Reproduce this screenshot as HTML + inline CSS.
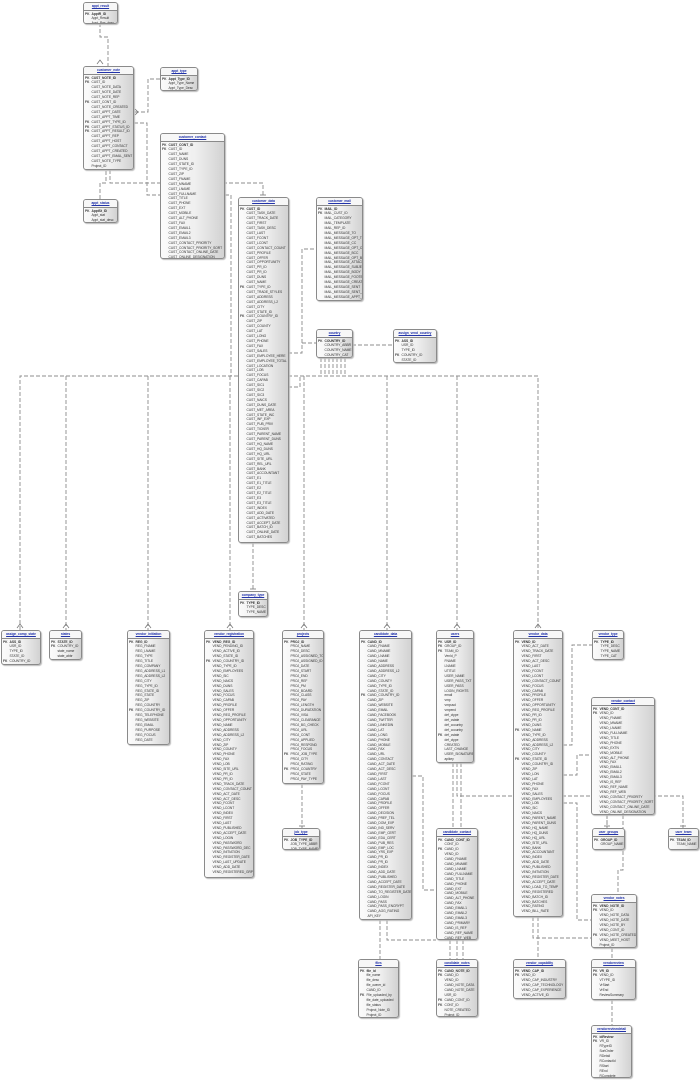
<!DOCTYPE html>
<html><head><meta charset="utf-8"><style>
html,body{margin:0;padding:0;background:#fff;}
body{width:700px;height:1081px;position:relative;overflow:hidden;}
.t{position:absolute;border:1px solid #8a8a8a;border-radius:3px;background:linear-gradient(90deg,#fbfbfb 0%,#efefef 55%,#d2d2d2 100%);box-shadow:1px 1px 1px #bbb;font-family:"Liberation Sans",sans-serif;font-size:3.3px;letter-spacing:-0.05px;line-height:4.9px;color:#333;overflow:hidden;box-sizing:border-box;}
.h{color:#2233aa;text-decoration:underline;font-weight:bold;text-align:center;line-height:6.5px;border-bottom:1px solid #8a8a8a;background:#f7f7f7;white-space:nowrap;}
.b{position:relative;padding:1px 0 0 1px;white-space:pre;}
.k{position:absolute;left:1px;top:1px;white-space:pre;font-weight:bold;color:#444;}
.f{padding-left:6.5px;}
.f b{font-weight:bold;}
svg{position:absolute;left:0;top:0;}
</style></head><body>
<svg width="700" height="1081" viewBox="0 0 700 1081">
<g fill="none" stroke="#8c8c8c" stroke-width="0.9" stroke-dasharray="4,2">
<path d="M100 23 V37 H108 V66"/>
<path d="M160 79 H148 V112 H134"/>
<path d="M134 123 H147 V195 H160"/>
<path d="M100 199 V183 H106 V170"/>
<path d="M110 170 V183 H263 V197"/>
<path d="M225 195 H231 V376"/>
<path d="M288 353 H302 V249 H316"/>
<path d="M302 343 H316"/>
<path d="M352 345 H393"/>
<path d="M288 387 H300 V376"/>
<path d="M20 630 V376 H538 V630"/>
<path d="M66 376 V630"/><path d="M148 376 V630"/><path d="M230 376 V630"/><path d="M304 376 V630"/><path d="M387 376 V630"/><path d="M457 376 V630"/>
<path d="M321 358 V376"/><path d="M325 358 V376"/><path d="M329 358 V376"/><path d="M333 358 V376"/><path d="M337 358 V376"/><path d="M341 358 V376"/><path d="M345 358 V376"/>
<path d="M253 543 V591"/>
<path d="M302 784 V828"/>
<path d="M457 763 V796 H683 V828"/>
<path d="M607 796 V828"/>
<path d="M453 763 V828"/><path d="M461 763 V828"/>
<path d="M412 776 H423 V890 H436"/>
<path d="M380 920 V959"/><path d="M387 920 V940 H436"/>
<path d="M450 940 V959"/><path d="M457 940 V959"/><path d="M463 940 V959"/>
<path d="M563 745 H572 V645 H592"/>
<path d="M563 775 H577 V755 H591"/>
<path d="M563 803 H577 V920 H591"/>
<path d="M623 815 V870 H618 V894"/>
<path d="M607 815 V828"/>
<path d="M533 917 V938 H591"/><path d="M538 917 V959"/>
<path d="M612 948 V959"/>
<path d="M612 1000 V1025"/>
</g>
<g stroke="#777" stroke-width="0.8" fill="none">
<path d="M97 64 L100 60 L103 64"/><path d="M135 109 L138 112 L135 115"/><path d="M260 195 H266"/><path d="M17 628 L20 624 L23 628"/><path d="M63 628 L66 624 L69 628"/><path d="M145 628 L148 624 L151 628"/><path d="M227 628 L230 624 L233 628"/><path d="M301 628 L304 624 L307 628"/><path d="M384 628 L387 624 L390 628"/><path d="M454 628 L457 624 L460 628"/><path d="M535 628 L538 624 L541 628"/><path d="M250 589 H256"/><path d="M299 826 H305"/><path d="M680 826 H686"/><path d="M604 826 H610"/>
</g>
</svg>

<div class="t" style="left:83px;top:2px;width:35px;height:22px"><div class="h">appt_result</div><div class="b"><span class="k">PK</span><div class="f"><b>ApptR_ID</b>
Appt_Result
Appt_Res_desc</div></div></div>

<div class="t" style="left:83px;top:66px;width:51px;height:104px"><div class="h">customer_note</div><div class="b"><span class="k">PK
FK



FK



FK
FK
FK</span><div class="f"><b>CUST_NOTE_ID</b>
CUST_ID
CUST_NOTE_DATA
CUST_NOTE_DATE
CUST_NOTE_REP
CUST_CONT_ID
CUST_NOTE_CREATED
CUST_APPT_DATE
CUST_APPT_TIME
CUST_APPT_TYPE_ID
CUST_APPT_STATUS_ID
CUST_APPT_RESULT_ID
CUST_APPT_REP
CUST_APPT_HOST
CUST_APPT_CONTACT
CUST_APPT_CREATED
CUST_APPT_EMAIL_SENT
CUST_NOTE_TYPE
Project_ID</div></div></div>

<div class="t" style="left:160px;top:67px;width:38px;height:24px"><div class="h">appt_type</div><div class="b"><span class="k">PK</span><div class="f"><b>Appt_Type_ID</b>
Appt_Type_Name
Appt_Type_Desc</div></div></div>

<div class="t" style="left:83px;top:199px;width:35px;height:24px"><div class="h">appt_status</div><div class="b"><span class="k">PK</span><div class="f"><b>ApptSt_ID</b>
Appt_stat
Appt_stat_desc</div></div></div>

<div class="t" style="left:160px;top:133px;width:65px;height:126px"><div class="h">customer_contact</div><div class="b"><span class="k">PK
FK</span><div class="f"><b>CUST_CONT_ID</b>
CUST_ID
CUST_NAME
CUST_DUNS
CUST_STATE_ID
CUST_TYPE_ID
CUST_ZIP
CUST_FNAME
CUST_MNAME
CUST_LNAME
CUST_FULLNAME
CUST_TITLE
CUST_PHONE
CUST_EXT
CUST_MOBILE
CUST_ALT_PHONE
CUST_FAX
CUST_EMAIL1
CUST_EMAIL2
CUST_EMAIL3
CUST_CONTACT_PRIORITY
CUST_CONTACT_PRIORITY_SORT
CUST_CONTACT_ONLINE_DATE
CUST_ONLINE_DESIGNATION</div></div></div>

<div class="t" style="left:238px;top:197px;width:51px;height:346px"><div class="h">customer_data</div><div class="b"><span class="k">PK















FK





FK</span><div class="f"><b>CUST_ID</b>
CUST_TASK_DATE
CUST_TRACK_DATE
CUST_FIRST
CUST_TASK_DESC
CUST_LAST
CUST_FCONT
CUST_LCONT
CUST_CONTACT_COUNT
CUST_PROFILE
CUST_OFFER
CUST_OPPORTUNITY
CUST_PR_ID
CUST_PR_ID
CUST_DUNS
CUST_NAME
CUST_TYPE_ID
CUST_TRADE_STYLES
CUST_ADDRESS
CUST_ADDRESS_L2
CUST_CITY
CUST_STATE_ID
CUST_COUNTRY_ID
CUST_ZIP
CUST_COUNTY
CUST_LAT
CUST_LONG
CUST_PHONE
CUST_FAX
CUST_SALES
CUST_EMPLOYEE_HERE
CUST_EMPLOYEE_TOTAL
CUST_LOCATION
CUST_LOB
CUST_FOCUS
CUST_CAPAB
CUST_SIC1
CUST_SIC2
CUST_SIC3
CUST_NAICS
CUST_DUNS_DATE
CUST_MET_AREA
CUST_STATE_INC
CUST_INF_EXP
CUST_PUB_PRIV
CUST_TICKER
CUST_PARENT_NAME
CUST_PARENT_DUNS
CUST_HQ_NAME
CUST_HQ_DUNS
CUST_HQ_URL
CUST_SITE_URL
CUST_REL_URL
CUST_BANK
CUST_ACCOUNTANT
CUST_E1
CUST_E1_TITLE
CUST_E2
CUST_E2_TITLE
CUST_E3
CUST_E3_TITLE
CUST_INDEX
CUST_ADD_DATE
CUST_ACTIVATED
CUST_ACCEPT_DATE
CUST_BATCH_ID
CUST_ONLINE_DATE
CUST_BATCHES</div></div></div>

<div class="t" style="left:316px;top:197px;width:47px;height:104px"><div class="h">customer_mail</div><div class="b"><span class="k">PK
FK</span><div class="f"><b>MAIL_ID</b>
MAIL_CUST_ID
MAIL_CATEGORY
MAIL_TEMPLATE
MAIL_REP_ID
MAIL_MESSAGE_TO
MAIL_MESSAGE_OPT_TO
MAIL_MESSAGE_CC
MAIL_MESSAGE_OPT_CC
MAIL_MESSAGE_BCC
MAIL_MESSAGE_OPT_BCC
MAIL_MESSAGE_ATTACHMENT
MAIL_MESSAGE_SUBJECT
MAIL_MESSAGE_BODY
MAIL_MESSAGE_FOOTER
MAIL_MESSAGE_CREATED
MAIL_MESSAGE_SENT
MAIL_MESSAGE_SENT_FLAG
MAIL_MESSAGE_APPT_ID</div></div></div>

<div class="t" style="left:316px;top:329px;width:37px;height:29px"><div class="h">country</div><div class="b"><span class="k">PK</span><div class="f"><b>COUNTRY_ID</b>
COUNTRY_ABBR
COUNTRY_NAME
COUNTRY_CAT</div></div></div>

<div class="t" style="left:393px;top:329px;width:44px;height:34px"><div class="h">assign_vend_country</div><div class="b"><span class="k">PK


FK</span><div class="f"><b>ASS_ID</b>
USR_ID
TYPE_ID
COUNTRY_ID
STATE_ID</div></div></div>

<div class="t" style="left:238px;top:591px;width:30px;height:26px"><div class="h">company_type</div><div class="b"><span class="k">PK</span><div class="f"><b>TYPE_ID</b>
TYPE_DESC
TYPE_NAME</div></div></div>

<div class="t" style="left:1px;top:630px;width:40px;height:35px"><div class="h">assign_comp_state</div><div class="b"><span class="k">PK



FK</span><div class="f"><b>ASS_ID</b>
USR_ID
TYPE_ID
STATE_ID
COUNTRY_ID</div></div></div>

<div class="t" style="left:49px;top:630px;width:33px;height:30px"><div class="h">states</div><div class="b"><span class="k">PK
FK</span><div class="f"><b>STATE_ID</b>
COUNTRY_ID
state_name
state_abbr</div></div></div>

<div class="t" style="left:127px;top:630px;width:43px;height:115px"><div class="h">vendor_initiation</div><div class="b"><span class="k">PK













FK</span><div class="f"><b>REG_ID</b>
REG_FNAME
REG_LNAME
REG_TYPE
REG_TITLE
REG_COMPANY
REG_ADDRESS_L1
REG_ADDRESS_L2
REG_CITY
REG_TYPE_ID
REG_STATE_ID
REG_STATE
REG_ZIP
REG_COUNTRY
REG_COUNTRY_ID
REG_TELEPHONE
REG_WEBSITE
REG_EMAIL
REG_PURPOSE
REG_FOCUS
REG_DATE</div></div></div>

<div class="t" style="left:204px;top:630px;width:50px;height:248px"><div class="h">vendor_registration</div><div class="b"><span class="k">PK



FK</span><div class="f"><b>VEND_REG_ID</b>
VEND_PENDING_ID
VEND_ACTIVE_ID
VEND_STATE_ID
VEND_COUNTRY_ID
VEND_TYPE_ID
VEND_EMPLOYEES
VEND_SIC
VEND_NAICS
VEND_DUNS
VEND_SALES
VEND_FOCUS
VEND_CAPAB
VEND_PROFILE
VEND_OFFER
VEND_REG_PROFILE
VEND_OPPORTUNITY
VEND_NAME
VEND_ADDRESS
VEND_ADDRESS_L2
VEND_CITY
VEND_ZIP
VEND_COUNTY
VEND_PHONE
VEND_FAX
VEND_LOB
VEND_SITE_URL
VEND_PR_ID
VEND_PR_ID
VEND_TRACK_DATE
VEND_CONTACT_COUNT
VEND_ACT_DATE
VEND_ACT_DESC
VEND_FCONT
VEND_LCONT
VEND_INDEX
VEND_FIRST
VEND_LAST
VEND_PUBLISHED
VEND_ACCEPT_DATE
VEND_LOGIN
VEND_PASSWORD
VEND_PASSWORD_DEC
VEND_INITIATION
VEND_REGISTER_DATE
VEND_LAST_UPDATE
VEND_ADD_DATE
VEND_REGISTERED_GRP</div></div></div>

<div class="t" style="left:282px;top:630px;width:42px;height:154px"><div class="h">projects</div><div class="b"><span class="k">PK






















FK


FK</span><div class="f"><b>PROJ_ID</b>
PROJ_NAME
PROJ_DESC
PROJ_ASSIGNED_TO
PROJ_ASSIGNED_ID
PROJ_DATE
PROJ_START
PROJ_END
PROJ_REF
PROJ_PM
PROJ_BOARD
PROJ_CLASS
PROJ_PAY
PROJ_LENGTH
PROJ_DURATATION
PROJ_VISA
PROJ_CLEARANCE
PROJ_BG_CHECK
PROJ_URL
PROJ_CONT
PROJ_APPLIED
PROJ_RESPOND
PROJ_FOCUS
PROJ_JOB_TYPE
PROJ_CITY
PROJ_RATING
PROJ_COUNTRY
PROJ_STATE
PROJ_PAY_TYPE</div></div></div>

<div class="t" style="left:282px;top:828px;width:38px;height:22px"><div class="h">job_type</div><div class="b"><span class="k">PK</span><div class="f"><b>JOB_TYPE_ID</b>
JOB_TYPE_ABBR
JOB_TYPE_NAME</div></div></div>

<div class="t" style="left:359px;top:630px;width:53px;height:290px"><div class="h">candidate_data</div><div class="b"><span class="k">PK










FK</span><div class="f"><b>CAND_ID</b>
CAND_FNAME
CAND_MNAME
CAND_LNAME
CAND_NAME
CAND_ADDRESS
CAND_ADDRESS_L2
CAND_CITY
CAND_COUNTY
CAND_TYPE_ID
CAND_STATE_ID
CAND_COUNTRY_ID
CAND_ZIP
CAND_WEBSITE
CAND_EMAIL
CAND_FACEBOOK
CAND_TWITTER
CAND_LINKEDIN
CAND_LAT
CAND_LONG
CAND_PHONE
CAND_MOBILE
CAND_FAX
CAND_URL
CAND_CONTACT
CAND_ACT_DATE
CAND_ACT_DESC
CAND_FIRST
CAND_LAST
CAND_FCONT
CAND_LCONT
CAND_FOCUS
CAND_CAPAB
CAND_PROFILE
CAND_OFFER
CAND_DECISION
CAND_PREF_TEL
CAND_DOM_EXP
CAND_IND_SERV
CAND_EMP_CERT
CAND_EDU_CERT
CAND_PUB_RES
CAND_EMP_LOC
CAND_YRS_EXP
CAND_PR_ID
CAND_PR_ID
CAND_INDEX
CAND_ADD_DATE
CAND_PUBLISHED
CAND_ACCEPT_DATE
CAND_REGISTER_DATE
CAND_TO_REGISTER_DATE
CAND_LOGIN
CAND_PASS
CAND_PASS_ENCRYPT
CAND_AGG_RATING
API_KEY</div></div></div>

<div class="t" style="left:436px;top:630px;width:38px;height:133px"><div class="h">users</div><div class="b"><span class="k">PK
FK
FK
















FK</span><div class="f"><b>USR_ID</b>
GROUP_ID
TEAM_ID
VenId_P
FNAME
LNAME
UTITLE
USER_NAME
USER_PASS_TXT
USER_PASS
LOGIN_RIGHTS
email
vmp
vmpusd
vmpend
def_ctype
def_cstate
def_ccountry
def_ccountry
def_cstate
def_ctype
CREATED
LAST_CHANGE
USER_SIGNATURE
apikey</div></div></div>

<div class="t" style="left:513px;top:630px;width:50px;height:287px"><div class="h">vendor_data</div><div class="b"><span class="k">PK

















FK





FK</span><div class="f"><b>VEND_ID</b>
VEND_ACT_DATE
VEND_TRACK_DATE
VEND_FIRST
VEND_ACT_DESC
VEND_LAST
VEND_FCONT
VEND_LCONT
VEND_CONTACT_COUNT
VEND_FOCUS
VEND_CAPAB
VEND_PROFILE
VEND_OFFER
VEND_OPPORTUNITY
VEND_REG_PROFILE
VEND_PR_ID
VEND_PR_ID
VEND_DUNS
VEND_NAME
VEND_TYPE_ID
VEND_ADDRESS
VEND_ADDRESS_L2
VEND_CITY
VEND_COUNTY
VEND_STATE_ID
VEND_COUNTRY_ID
VEND_ZIP
VEND_LON
VEND_LAT
VEND_PHONE
VEND_FAX
VEND_SALES
VEND_EMPLOYEES
VEND_LOB
VEND_SIC
VEND_NAICS
VEND_PARENT_NAME
VEND_PARENT_DUNS
VEND_HQ_NAME
VEND_HQ_DUNS
VEND_HQ_URL
VEND_SITE_URL
VEND_BANK
VEND_ACCOUNTANT
VEND_INDEX
VEND_ADD_DATE
VEND_PUBLISHED
VEND_INITIATION
VEND_REGISTER_DATE
VEND_ACCEPT_DATE
VEND_LOAD_TO_TEMP
VEND_REGISTERED
VEND_BATCH_ID
VEND_BATCHES
VEND_RATING
VEND_BILL_RATE</div></div></div>

<div class="t" style="left:592px;top:630px;width:32px;height:30px"><div class="h">vendor_type</div><div class="b"><span class="k">PK</span><div class="f"><b>TYPE_ID</b>
TYPE_DESC
TYPE_NAME
TYPE_CAT</div></div></div>

<div class="t" style="left:591px;top:697px;width:64px;height:118px"><div class="h">vendor_contact</div><div class="b"><span class="k">PK
FK</span><div class="f"><b>VEND_CONT_ID</b>
VEND_ID
VEND_FNAME
VEND_MNAME
VEND_LNAME
VEND_FULLNAME
VEND_TITLE
VEND_PHONE
VEND_EXTN
VEND_MOBILE
VEND_ALT_PHONE
VEND_FAX
VEND_EMAIL1
VEND_EMAIL2
VEND_EMAIL3
VEND_IS_REF
VEND_REF_NAME
VEND_REF_WEB
VEND_CONTACT_PRIORITY
VEND_CONTACT_PRIORITY_SORT
VEND_CONTACT_ONLINE_DATE
VEND_ONLINE_DESIGNATION</div></div></div>

<div class="t" style="left:592px;top:828px;width:33px;height:22px"><div class="h">user_groups</div><div class="b"><span class="k">PK</span><div class="f"><b>GROUP_ID</b>
GROUP_NAME</div></div></div>

<div class="t" style="left:668px;top:828px;width:31px;height:22px"><div class="h">user_team</div><div class="b"><span class="k">PK</span><div class="f"><b>TEAM_ID</b>
TEAM_NAME</div></div></div>

<div class="t" style="left:436px;top:828px;width:42px;height:112px"><div class="h">candidate_contact</div><div class="b"><span class="k">PK

FK</span><div class="f"><b>CAND_CONT_ID</b>
CONT_ID
CAND_ID
VEND_ID
CAND_FNAME
CAND_MNAME
CAND_LNAME
CAND_FULLNAME
CAND_TITLE
CAND_PHONE
CAND_EXT
CAND_MOBILE
CAND_ALT_PHONE
CAND_FAX
CAND_EMAIL1
CAND_EMAIL2
CAND_EMAIL3
CAND_PRIMARY
CAND_IS_REF
CAND_REF_NAME
CAND_REF_WEB</div></div></div>

<div class="t" style="left:591px;top:894px;width:46px;height:54px"><div class="h">vendor_notes</div><div class="b"><span class="k">PK
FK




FK</span><div class="f"><b>VEND_NOTE_ID</b>
VEND_ID
VEND_NOTE_DATA
VEND_NOTE_DATE
VEND_NOTE_BY
VEND_CONT_ID
VEND_NOTE_CREATED
VEND_MEET_HOST
Project_ID</div></div></div>

<div class="t" style="left:358px;top:959px;width:41px;height:59px"><div class="h">files</div><div class="b"><span class="k">PK




FK</span><div class="f"><b>file_id</b>
file_name
file_desc
file_owner_id
CAND_ID
File_uploaded_by
file_date_uploaded
file_status
Project_Note_ID
Project_ID</div></div></div>

<div class="t" style="left:436px;top:959px;width:42px;height:58px"><div class="h">candidate_notes</div><div class="b"><span class="k">PK
FK




FK
FK</span><div class="f"><b>CAND_NOTE_ID</b>
CAND_ID
VEND_ID
CAND_NOTE_DATA
CAND_NOTE_DATE
USR_ID
CAND_CONT_ID
CONT_ID
NOTE_CREATED
Project_ID</div></div></div>

<div class="t" style="left:513px;top:959px;width:53px;height:40px"><div class="h">vendor_capability</div><div class="b"><span class="k">PK
FK</span><div class="f"><b>VEND_CAP_ID</b>
VEND_ID
VEND_CAP_INDUSTRY
VEND_CAP_TECHNOLOGY
VEND_CAP_EXPERIENCE
VEND_ACTIVE_ID</div></div></div>

<div class="t" style="left:591px;top:959px;width:45px;height:41px"><div class="h">vendorreview</div><div class="b"><span class="k">PK
FK</span><div class="f"><b>VR_ID</b>
VEND_ID
VTYPE_ID
VrStart
VrEnd
ReviewSummary</div></div></div>

<div class="t" style="left:591px;top:1025px;width:41px;height:53px"><div class="h">vendorreviewdetail</div><div class="b"><span class="k">PK
FK</span><div class="f"><b>idReview</b>
VR_ID
RTypeID
SortOrder
RDetail
RContactId
RStart
REnd
RComplete</div></div></div>

</body></html>
